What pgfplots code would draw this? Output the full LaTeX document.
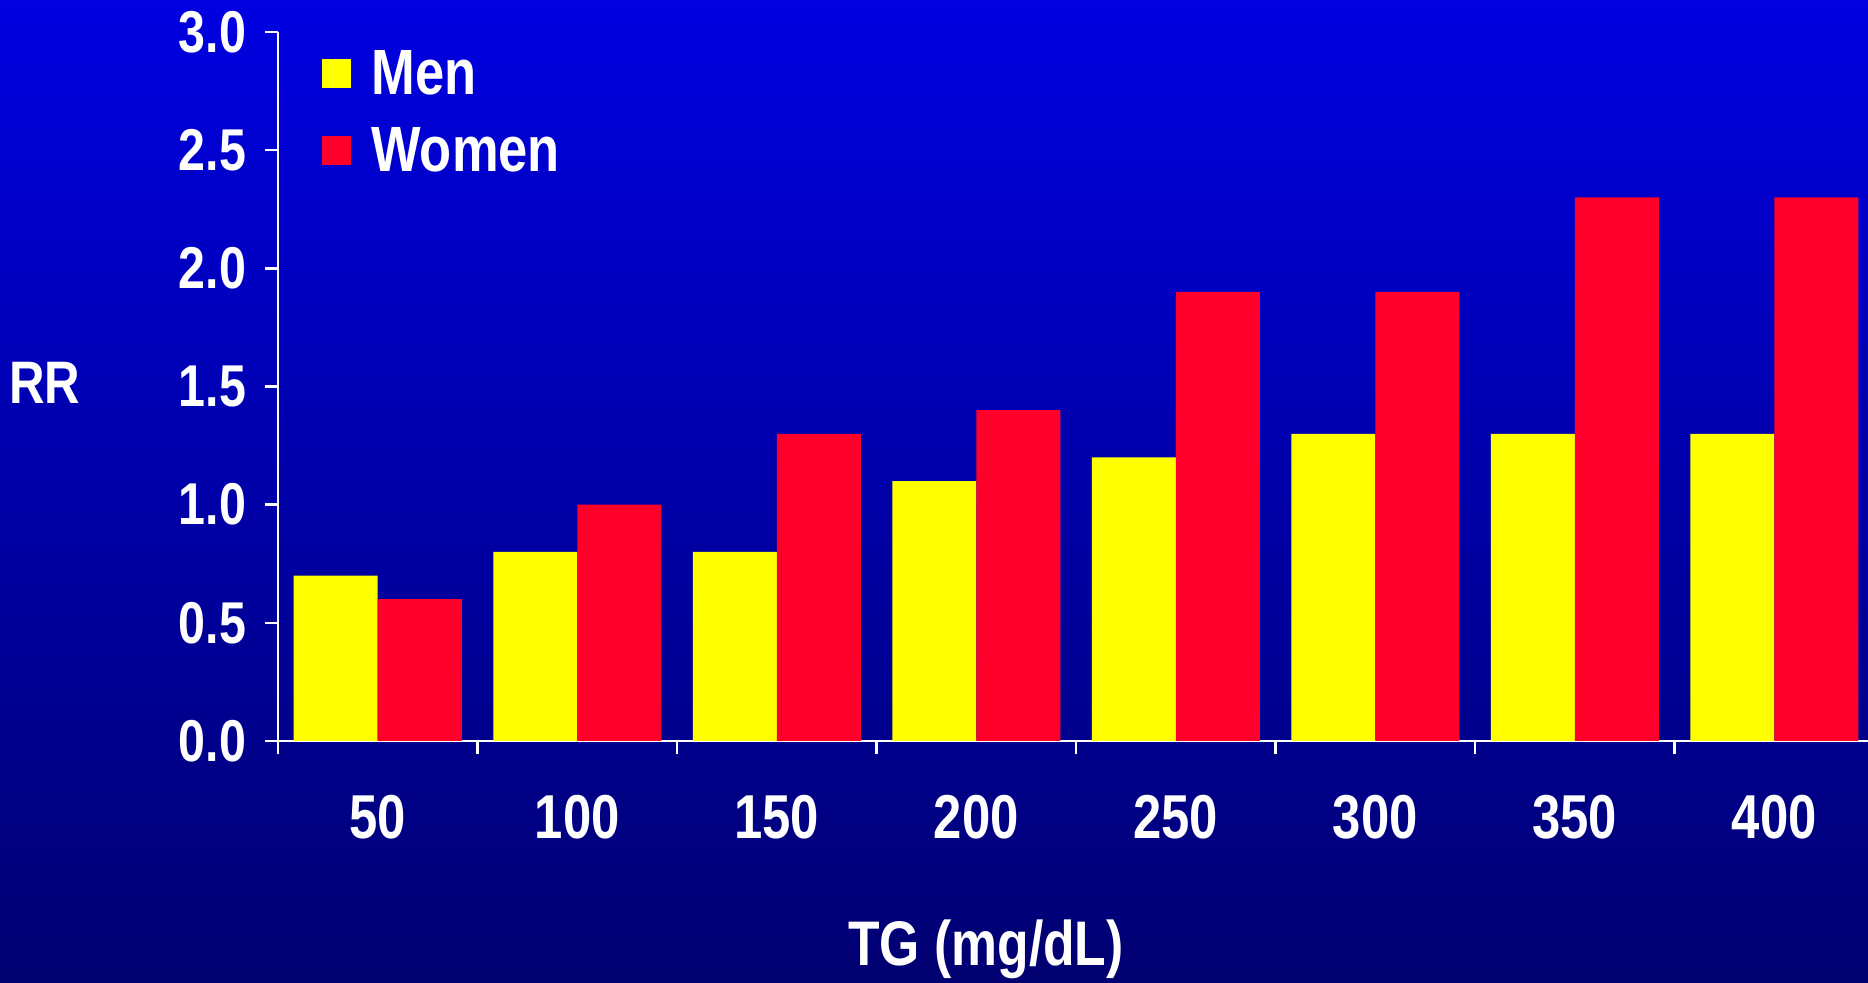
\documentclass[border=0pt]{standalone}
\usepackage{fontspec}
\setmainfont{Liberation Sans}[FakeStretch=0.82]
\usepackage{pgfplots}
\pgfplotsset{compat=1.18}
\usetikzlibrary{shadings}

\definecolor{bgtop}{RGB}{0,0,225}
\definecolor{bgbot}{RGB}{0,0,112}
\definecolor{menyellow}{RGB}{255,255,0}
\definecolor{womenred}{RGB}{255,0,42}

\begin{document}
\begin{tikzpicture}
% slide background
\shade[top color=bgtop, bottom color=bgbot] (0,0) rectangle (934pt,491.5pt);

\begin{axis}[
  at={(139pt,121pt)}, anchor=south west,
  scale only axis, width=798pt, height=354.5pt,
  xmin=-0.5, xmax=7.5, ymin=0, ymax=3,
  axis lines=left,
  axis line style={white, line width=1.4pt, -},
  tick align=outside,
  major tick length=6.5pt,
  tick style={white, line width=1.2pt},
  ybar=0pt, bar width=42pt,
  % category boundaries carry the tick marks
  xtick={-0.5,0.5,...,6.5},
  xticklabels={},
  extra x ticks={0,1,2,3,4,5,6,7},
  extra x tick labels={50,100,150,200,250,300,350,400},
  extra x tick style={major tick length=0pt,
    xticklabel style={anchor=base, yshift=-49pt}},
  ytick={0,0.5,1,1.5,2,2.5,3},
  yticklabel style={xshift=-6pt,
    /pgf/number format/.cd, fixed, fixed zerofill, precision=1},
  /pgf/number format/assume math mode=true,
  ticklabel style={text=white, font=\bfseries\fontsize{29.5}{29.5}\selectfont},
  xticklabel style={font=\bfseries\fontsize{31}{31}\selectfont},
  ylabel={RR},
  ylabel style={rotate=-90, at={(axis description cs:0,0.476)}, anchor=base,
    xshift=-116.5pt, text=white, font=\bfseries\fontsize{30}{30}\selectfont},
  xlabel={TG (mg/dL)},
  xlabel style={at={(axis description cs:0.4436,0)}, anchor=base,
    yshift=-112.5pt, text=white, font=\bfseries\fontsize{31.5}{31.5}\selectfont},
  legend style={draw=none, fill=none, text=white,
    font=\bfseries\fontsize{32}{32}\selectfont,
    at={(axis description cs:0,1)}, anchor=north west,
    xshift=22pt, yshift=-7pt, row sep=11pt, inner sep=0pt,
    nodes={inner xsep=10pt}},
  legend cell align=left,
  legend image code/.code={\fill[#1] (0pt,-7.25pt) rectangle (14.5pt,7.25pt);},
]
\addplot[fill=menyellow, draw=none] coordinates {
  (0,0.7) (1,0.8) (2,0.8) (3,1.1) (4,1.2) (5,1.3) (6,1.3) (7,1.3)};
\addplot[fill=womenred, draw=none] coordinates {
  (0,0.6) (1,1.0) (2,1.3) (3,1.4) (4,1.9) (5,1.9) (6,2.3) (7,2.3)};
\legend{Men, Women}
\end{axis}

\pgfresetboundingbox
\useasboundingbox (0,0) rectangle (934pt,491.5pt);
\end{tikzpicture}
\end{document}
